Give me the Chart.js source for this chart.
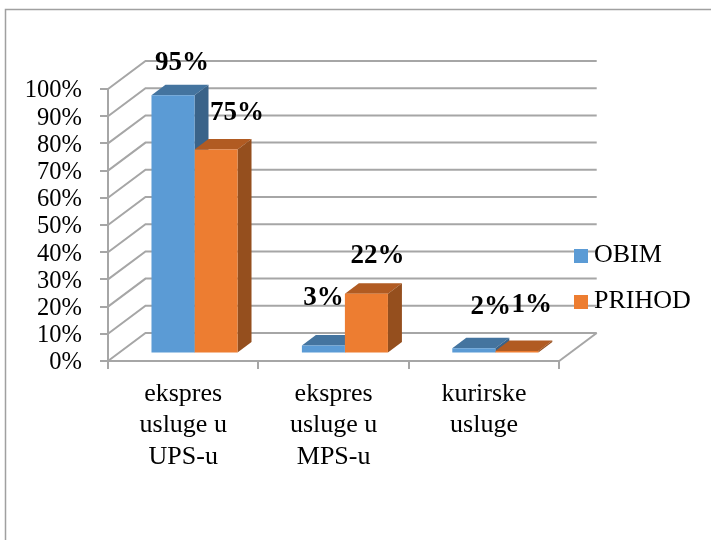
<!DOCTYPE html>
<html><head><meta charset="utf-8">
<style>html,body{margin:0;padding:0;background:#fff}#w{width:711px;height:540px;position:relative}</style>
<script src="https://cdn.jsdelivr.net/npm/chart.js@4"></script>
</head><body><div id="w"><canvas id="c"></canvas></div>
<script>
const categories = [['ekspres','usluge u','UPS-u'],['ekspres','usluge u','MPS-u'],['kurirske','usluge']];
const obim = [95, 3, 2];
const prihod = [75, 22, 1];
const seriesNames = ['OBIM','PRIHOD'];
const labelNudges = [[[9,-32],[0,-47],[17,-41]],[[21,-37],[11,-38],[15,-46]]];
const SERIF = '"Liberation Serif"';
const wall = {dx:37.5, dy:-28};
const bar3d = {dx:11.3, dy:-7.4, ox:14, oy:-10.5};
const faces = [{front:'#5B9BD5',top:'#44749F',side:'#3A6389'},{front:'#ED7D31',top:'#B15B22',side:'#954F1E'}];
const GRID = '#A6A6A6';

function swatch(color){
  const s = document.createElement('canvas');
  s.width = 14; s.height = 14;
  const g = s.getContext('2d');
  g.fillStyle = color; g.fillRect(0,0,14,14);
  return s;
}
const swatches = faces.map(f=>swatch(f.front));

const threeD = {
  id:'threeD',
  afterLayout(chart){
    const l = chart.legend; const sh = -36;
    l.top += sh; l.bottom += sh;
    l.left = 560;
  },
  beforeDraw(chart){
    const {ctx,scales:{x,y}} = chart;
    ctx.save();
    ctx.strokeStyle = '#A0A0A0'; ctx.lineWidth = 1.5;
    ctx.beginPath();
    ctx.moveTo(5.5,540); ctx.lineTo(5.5,9.5); ctx.lineTo(711,9.5);
    ctx.stroke();
    ctx.strokeStyle = GRID; ctx.lineWidth = 2;
    y.ticks.forEach(t=>{
      const py = y.getPixelForValue(t.value);
      ctx.beginPath();
      ctx.moveTo(x.left,py);
      ctx.lineTo(x.left+wall.dx,py+wall.dy);
      ctx.lineTo(x.right+wall.dx,py+wall.dy);
      ctx.stroke();
    });
    const b = y.getPixelForValue(0);
    ctx.beginPath();
    ctx.moveTo(x.right,b);
    ctx.lineTo(x.right+wall.dx,b+wall.dy);
    ctx.stroke();
    ctx.restore();
  },
  beforeDatasetsDraw(chart){
    const {ctx} = chart;
    ctx.save();
    ctx.translate(bar3d.dx,bar3d.dy);
    chart.data.datasets.forEach((ds,i)=>{
      const f = faces[i];
      chart.getDatasetMeta(i).data.forEach(el=>{
        const w = el.width/2, l = el.x-w, r = el.x+w, t = el.y, bt = el.base;
        ctx.fillStyle = f.top;
        ctx.beginPath();
        ctx.moveTo(l,t); ctx.lineTo(l+bar3d.ox,t+bar3d.oy); ctx.lineTo(r+bar3d.ox,t+bar3d.oy); ctx.lineTo(r,t);
        ctx.closePath(); ctx.fill();
        ctx.fillStyle = f.side;
        ctx.beginPath();
        ctx.moveTo(r,t); ctx.lineTo(r+bar3d.ox,t+bar3d.oy); ctx.lineTo(r+bar3d.ox,bt+bar3d.oy); ctx.lineTo(r,bt);
        ctx.closePath(); ctx.fill();
      });
    });
    ctx.restore();
  },
  beforeDatasetDraw(chart){
    chart.ctx.save();
    chart.ctx.translate(bar3d.dx,bar3d.dy);
  },
  afterDatasetDraw(chart){ chart.ctx.restore(); },
  afterDatasetsDraw(chart){
    const {ctx} = chart;
    ctx.save();
    ctx.font = 'bold 27px '+SERIF;
    ctx.fillStyle = '#000';
    ctx.textAlign = 'center';
    ctx.textBaseline = 'middle';
    chart.data.datasets.forEach((ds,i)=>{
      chart.getDatasetMeta(i).data.forEach((el,j)=>{
        const n = labelNudges[i][j];
        ctx.fillText(ds.data[j]+'%', el.x+bar3d.dx+n[0], el.y+bar3d.dy+n[1]);
      });
    });
    ctx.restore();
  }
};

new Chart(document.getElementById('c'),{
  type:'bar',
  data:{labels:categories,datasets:[
    {label:seriesNames[0],data:obim,backgroundColor:faces[0].front,clip:false},
    {label:seriesNames[1],data:prihod,backgroundColor:faces[1].front,clip:false}
  ]},
  plugins:[threeD],
  options:{
    responsive:true,maintainAspectRatio:false,animation:false,
    layout:{padding:{top:89,right:11,left:0,bottom:0}},
    datasets:{bar:{categoryPercentage:0.572,barPercentage:1}},
    plugins:{
      tooltip:{enabled:false},
      legend:{position:'right',align:'center',labels:{
        color:'#000',font:{family:SERIF,size:26},boxHeight:14,padding:20,
        usePointStyle:true,pointStyleWidth:1,
        generateLabels(chart){
          return Chart.defaults.plugins.legend.labels.generateLabels(chart)
            .map(l=>({...l,pointStyle:swatches[l.datasetIndex]}));
        }
      }}
    },
    scales:{
      x:{
        afterFit(s){s.height=179;},
        grid:{drawOnChartArea:false,color:GRID,lineWidth:2,tickLength:8,offset:true},
        border:{color:GRID,width:2},
        ticks:{color:'#000',font:{family:SERIF,size:26,lineHeight:1.22},maxRotation:0,minRotation:0,autoSkip:false,padding:9}
      },
      y:{
        min:0,max:100,
        afterFit(s){s.width=108;},
        grid:{drawOnChartArea:false,color:GRID,lineWidth:2,tickLength:8},
        border:{color:GRID,width:2},
        ticks:{stepSize:10,autoSkip:false,color:'#000',font:{family:SERIF,size:24.5},padding:18,labelOffset:2,callback:v=>v+'%'}
      }
    }
  }
});
</script></body></html>
